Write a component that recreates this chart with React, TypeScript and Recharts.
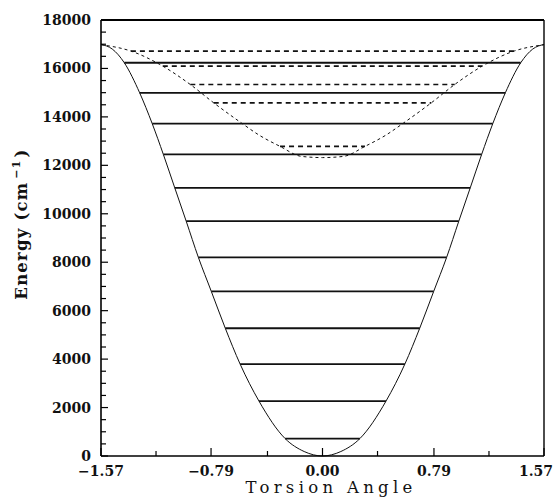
import { Customized, Line, LineChart, XAxis, YAxis } from "recharts";

// ground state potential
const groundAngle = [
  -1.57, -1.49, -1.405, -1.296, -1.207, -1.128, -1.047, -0.966, -0.88, -0.788, -0.689, -0.584,
  -0.45, -0.265, -0.13, 0, 0.13, 0.265, 0.45, 0.584, 0.689, 0.788, 0.88, 0.966, 1.047, 1.128,
  1.207, 1.296, 1.405, 1.49, 1.57,
];
const groundEnergy = [
  16990, 16800, 16236, 14994, 13722, 12451, 11068, 9693, 8203, 6795, 5275, 3797, 2265, 720,
  185, 0, 185, 720, 2265, 3797, 5275, 6795, 8203, 9693, 11068, 12451, 13722, 14994, 16236,
  16800, 16990,
];

// excited state potential (dashed)
const excitedAngle = [
  -1.57, -1.358, -1.132, -0.937, -0.771, -0.575, -0.45, -0.301, -0.15, 0, 0.15, 0.301, 0.45,
  0.575, 0.771, 0.937, 1.132, 1.358, 1.57,
];
const excitedEnergy = [
  16980, 16717, 16095, 15337, 14580, 13750, 13250, 12783, 12370, 12320, 12370, 12783, 13250,
  13750, 14580, 15337, 16095, 16717, 16980,
];

// vibrational levels: energy and half-width (turning point)
const groundLevels = [720, 2265, 3797, 5275, 6795, 8203, 9693, 11068, 12451, 13722, 14994, 16236];
const groundTurn = [0.265, 0.45, 0.584, 0.689, 0.788, 0.88, 0.966, 1.047, 1.128, 1.207, 1.296, 1.405];
const excitedLevels = [12783, 14580, 15337, 16095, 16717];
const excitedTurn = [0.301, 0.771, 0.937, 1.132, 1.358];

const xTicks = [-1.57, -1.18, -0.79, -0.39, 0, 0.39, 0.79, 1.18, 1.57];
const xLabels: Record<string, string> = {
  "-1.57": "\u22121.57",
  "-0.79": "\u22120.79",
  "0": "0.00",
  "0.79": "0.79",
  "1.57": "1.57",
};
const yTicks = Array.from({ length: 37 }, (_, i) => i * 500);

const groundData = groundAngle.map((x, i) => ({ x, y: groundEnergy[i] }));
const excitedData = excitedAngle.map((x, i) => ({ x, y: excitedEnergy[i] }));

const FONT = "'DejaVu Serif', 'Liberation Serif', serif";

function BottomTick({ x, y, payload }: any) {
  const label = xLabels[String(payload.value)];
  const last = payload.value === 1.57;
  return (
    <g>
      <line x1={x} x2={x} y1={y} y2={y - (label ? 8 : 5)} stroke="#000" strokeWidth={1.2} />
      {label && (
        <text
          x={last ? x + 9 : x}
          y={y + 20}
          textAnchor={last ? "end" : "middle"}
          fontFamily={FONT}
          fontWeight="bold"
          fontSize={14}
          fill="#111"
        >
          {label}
        </text>
      )}
    </g>
  );
}

function TopTick({ x, y, payload }: any) {
  const major = xLabels[String(payload.value)] !== undefined;
  return <line x1={x} x2={x} y1={y} y2={y + (major ? 7 : 4)} stroke="#000" strokeWidth={1.2} />;
}

function LeftTick({ x, y, payload }: any) {
  const major = payload.value % 2000 === 0;
  return (
    <g>
      <line x1={x} x2={x + (major ? 7 : 5)} y1={y} y2={y} stroke="#000" strokeWidth={1.2} />
      {major && (
        <text x={x - 10} y={y} dy={5} textAnchor="end" fontFamily={FONT} fontWeight="bold" fontSize={14} fill="#111">
          {payload.value}
        </text>
      )}
    </g>
  );
}

function RightTick({ x, y, payload }: any) {
  const major = payload.value % 2000 === 0;
  return <line x1={x} x2={x - (major ? 7 : 5)} y1={y} y2={y} stroke="#000" strokeWidth={1.2} />;
}

function Titles() {
  return (
    <g fill="#111" fontFamily={FONT}>
      <text x={331} y={493} textAnchor="middle" fontSize={16.5} letterSpacing={4.3}>
        Torsion Angle
      </text>
      <text
        x={27}
        y={224}
        transform="rotate(-90, 27, 224)"
        textAnchor="middle"
        fontSize={16.5}
        fontWeight="bold"
        letterSpacing={1.2}
      >
        Energy (cm
        <tspan dx={3} dy={-7} fontSize={11}>
          {"\u22121"}
        </tspan>
        <tspan dx={2} dy={7}>
          )
        </tspan>
      </text>
    </g>
  );
}

export default function App() {
  return (
    <div style={{ width: 558, height: 498, background: "#fff" }}>
      <style>{"body{margin:0}"}</style>
      <LineChart width={558} height={498} margin={{ top: 0, right: 0, bottom: 0, left: 0 }}>
        <XAxis
          dataKey="x"
          type="number"
          domain={[-1.57, 1.57]}
          ticks={xTicks}
          height={42}
          tickSize={0}
          tickMargin={0}
          tickLine={false}
          axisLine={{ stroke: "#000", strokeWidth: 1.6 }}
          tick={BottomTick}
          interval={0}
        />
        <XAxis
          xAxisId="top"
          orientation="top"
          type="number"
          domain={[-1.57, 1.57]}
          ticks={xTicks}
          height={20}
          tickSize={0}
          tickMargin={0}
          tickLine={false}
          axisLine={{ stroke: "#000", strokeWidth: 2 }}
          tick={TopTick}
          interval={0}
        />
        <YAxis
          type="number"
          domain={[0, 18000]}
          ticks={yTicks}
          width={101}
          tickSize={0}
          tickMargin={0}
          tickLine={false}
          axisLine={{ stroke: "#000", strokeWidth: 1.6 }}
          tick={LeftTick}
          interval={0}
        />
        <YAxis
          yAxisId="right"
          orientation="right"
          type="number"
          domain={[0, 18000]}
          ticks={yTicks}
          width={14}
          tickSize={0}
          tickMargin={0}
          tickLine={false}
          axisLine={{ stroke: "#000", strokeWidth: 1.4 }}
          tick={RightTick}
          interval={0}
        />
        <Line
          data={groundData}
          dataKey="y"
          type="monotone"
          stroke="#111"
          strokeWidth={1}
          dot={false}
          activeDot={false}
          isAnimationActive={false}
        />
        <Line
          data={excitedData}
          dataKey="y"
          type="monotone"
          stroke="#111"
          strokeWidth={1}
          strokeDasharray="3 3"
          dot={false}
          activeDot={false}
          isAnimationActive={false}
        />
        {groundLevels.map((e, i) => (
          <Line
            key={`g${i}`}
            data={[
              { x: -groundTurn[i], y: e },
              { x: groundTurn[i], y: e },
            ]}
            dataKey="y"
            type="linear"
            stroke="#111"
            strokeWidth={1.8}
            dot={false}
            activeDot={false}
            isAnimationActive={false}
          />
        ))}
        {excitedLevels.map((e, i) => (
          <Line
            key={`e${i}`}
            data={[
              { x: -excitedTurn[i], y: e },
              { x: excitedTurn[i], y: e },
            ]}
            dataKey="y"
            type="linear"
            stroke="#111"
            strokeWidth={1.6}
            strokeDasharray="5 4"
            dot={false}
            activeDot={false}
            isAnimationActive={false}
          />
        ))}
        <Customized component={<Titles />} />
      </LineChart>
    </div>
  );
}
